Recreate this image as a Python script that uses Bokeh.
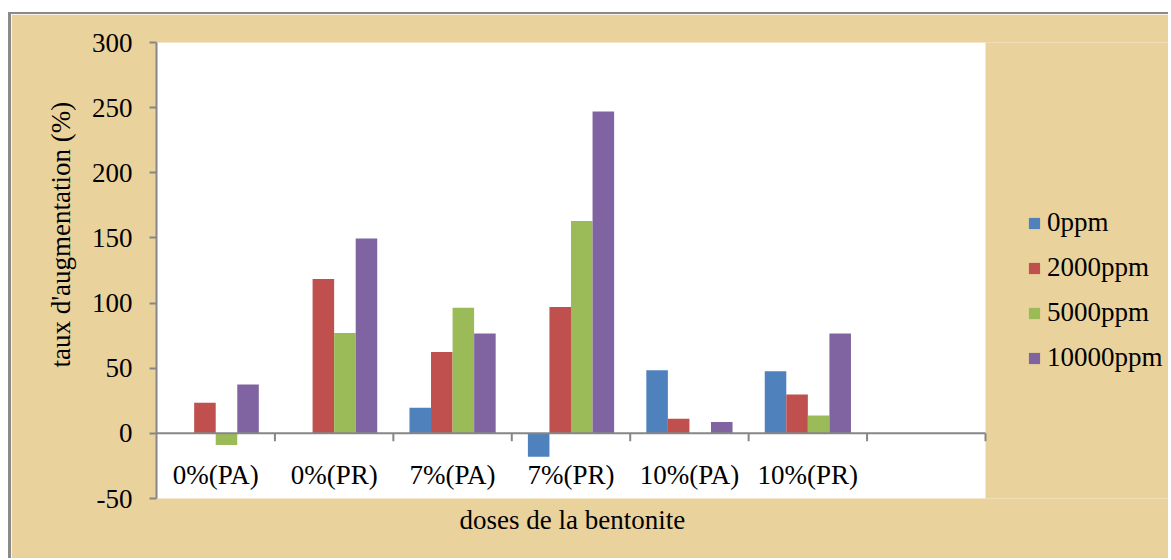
import math
from bokeh.plotting import figure
from bokeh.models import (ColumnDataSource, FixedTicker, Legend, LegendItem, Range1d, Title)
from bokeh.core.properties import value
from bokeh.embed import file_html
from bokeh.resources import INLINE

# ---- data ----
categories = ["0%(PA)", "0%(PR)", "7%(PA)", "7%(PR)", "10%(PA)", "10%(PR)", ""]
series_names = ["0ppm", "2000ppm", "5000ppm", "10000ppm"]
v_0ppm = [0, 0, 19.7, -18, 48.5, 47.7, float("nan")]
v_2000ppm = [23.5, 118.5, 62.5, 97, 11.3, 29.8, float("nan")]
v_5000ppm = [-9, 77, 96.5, 163, 0, 13.8, float("nan")]
v_10000ppm = [37.5, 149.5, 76.7, 247, 8.7, 76.7, float("nan")]
y_ticks = [-50, 0, 50, 100, 150, 200, 250, 300]

series_values = [v_0ppm, v_2000ppm, v_5000ppm, v_10000ppm]
colors = ["#4F81BD", "#C0504D", "#9BBB59", "#8064A2"]
FONT = "Liberation Serif"
AXIS_GRAY = "#868686"
TAN = "#EAD29C"

n = len(categories)
centers = [i + 0.5 for i in range(n)]
bar_w = 0.182
offsets = [-1.5 * bar_w, -0.5 * bar_w, 0.5 * bar_w, 1.5 * bar_w]
y_min, y_max = y_ticks[0], y_ticks[-1]

# frame spans to the right edge so the legend can live inside it;
# the white plot area is only the part covering the categories
W, H = 1160, 546
left_b, top_b, bot_b = 145, 28, 62
plot_area_px = 829
frame_px = W - left_b
x_end = n * frame_px / plot_area_px

p = figure(width=W, height=H, output_backend="svg", toolbar_location=None,
           x_range=Range1d(0, x_end), y_range=Range1d(y_min, y_max),
           min_border_left=left_b, min_border_right=0, min_border_top=top_b,
           min_border_bottom=bot_b)
p.styles = {"margin-left": "8px", "margin-top": "12px",
            "border-left": "3px solid #8a8a8a", "border-top": "2px solid #8a8a8a"}
p.border_fill_color = TAN
p.background_fill_color = TAN
p.outline_line_color = None
p.xgrid.visible = False
p.ygrid.visible = False

# white plot area over the category slots
p.quad(left=[0], right=[n], bottom=[y_min], top=[y_max], fill_color="white",
       line_color=None)

renderers = []
for name, vals, col, off in zip(series_names, series_values, colors, offsets):
    src = ColumnDataSource(dict(x=[c + off for c in centers], top=vals))
    r = p.vbar(x="x", top="top", bottom=0, width=bar_w, source=src,
               fill_color=col, line_color=None)
    renderers.append((name, r))

# zero line with category-boundary ticks
p.line(x=[0, n], y=[0, 0], line_color=AXIS_GRAY, line_width=2)
bounds = list(range(1, n + 1))
p.segment(x0=bounds, y0=[0] * len(bounds), x1=bounds, y1=[-6] * len(bounds),
          line_color=AXIS_GRAY, line_width=2)

# category labels just below zero line
lab_src = ColumnDataSource(dict(x=centers, y=[-32] * n, t=categories))
p.text(x="x", y="y", text="t", source=lab_src, text_align="center", text_baseline="middle",
       text_font=value(FONT), text_font_size="27px", text_color="black")

# y axis
ya = p.yaxis[0]
ya.ticker = FixedTicker(ticks=y_ticks)
ya.major_label_overrides = {t: str(t) for t in y_ticks}
ya.axis_line_color = AXIS_GRAY
ya.axis_line_width = 2
ya.major_tick_line_color = AXIS_GRAY
ya.major_tick_line_width = 2
ya.major_tick_out = 7
ya.major_tick_in = 0
ya.minor_tick_line_color = None
ya.major_label_standoff = 17
ya.major_label_text_font = FONT
ya.major_label_text_font_size = "27px"
ya.major_label_text_color = "black"

# y title (placed a bit above the frame centre, as in the original)
yt = Title(text="taux d'augmentation (%)", align="left", offset=131, standoff=26,
           text_font=FONT, text_font_size="27px", text_font_style="normal",
           text_color="black")
p.add_layout(yt, "left")

p.xaxis.visible = False

# x title, centred under the white plot area
xt = Title(text="doses de la bentonite", align="left", offset=303, standoff=8,
           text_font=FONT, text_font_size="27px", text_font_style="normal",
           text_color="black")
p.add_layout(xt, "below")

legend = Legend(items=[LegendItem(label=nm, renderers=[r]) for nm, r in renderers],
                location=(871, 125), orientation="vertical",
                glyph_width=14, glyph_height=14, label_standoff=6, spacing=14,
                padding=0, margin=0, border_line_color=None, background_fill_alpha=0,
                label_text_font=FONT, label_text_font_size="27px", label_text_color="black")
p.add_layout(legend, "center")

open("out.html", "w").write(file_html(p, INLINE))
